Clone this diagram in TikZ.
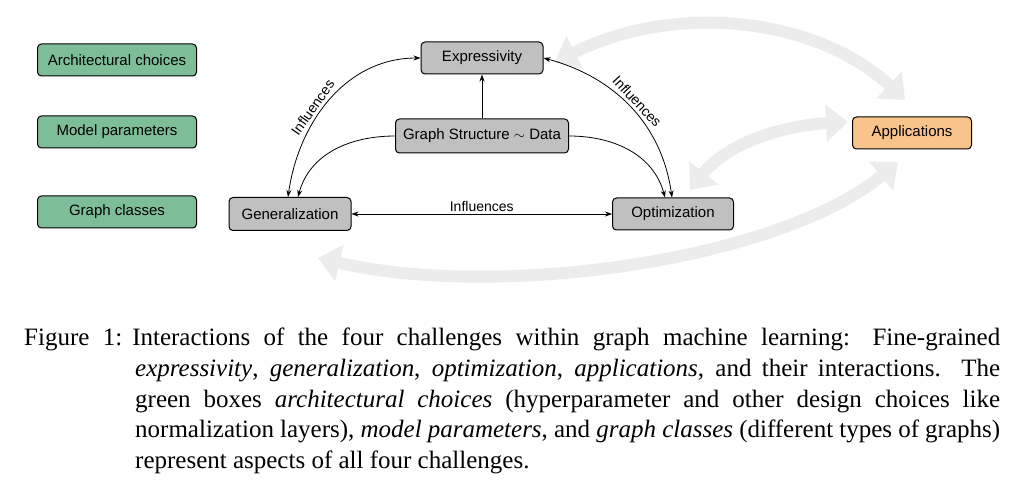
\documentclass[tikz,border=0pt]{standalone}
\usepackage{fontspec}
\setmainfont{Liberation Serif}
\newfontfamily\sansf{Liberation Sans}
\usetikzlibrary{arrows.meta}
\definecolor{boxgreen}{RGB}{125,190,152}
\definecolor{boxgray}{RGB}{192,192,192}
\definecolor{boxorange}{RGB}{249,196,140}
\definecolor{bigarrow}{RGB}{236,236,236}
\begin{document}
\begin{tikzpicture}[x=1pt,y=-1pt,
  box/.style={draw=black,line width=1pt,rounded corners=4pt,minimum height=32pt,font=\sansf\fontsize{15}{16}\selectfont,inner xsep=6pt},
  green/.style={box,fill=boxgreen,minimum width=159pt},
  gray/.style={box,fill=boxgray},
  con/.style={line width=0.8pt,-{Stealth[length=7pt,width=5pt]}},
  dcon/.style={line width=0.8pt,{Stealth[length=7pt,width=5pt]}-{Stealth[length=7pt,width=5pt]}},
  big/.style={bigarrow,line width=12pt,{Triangle[length=22pt,width=36pt]}-{Triangle[length=22pt,width=36pt]}},
  lab/.style={font=\sansf\fontsize{14}{15}\selectfont}]
\useasboundingbox (0,0) rectangle (1031,497);
\fill[white] (0,0) rectangle (1031,497);
% big light arrows
\coordinate (t1) at (555,62); \coordinate (t2) at (905,100);
\coordinate (m1) at (690,190); \coordinate (m2) at (848,122);
\coordinate (b1) at (318,258); \coordinate (b2) at (898,162);
\draw[big] (t1) .. controls (680,0) and (820,20) .. (t2);
\draw[big] (m1) .. controls (730,140) and (790,125) .. (m2);
\draw[big] (b1) .. controls (500,300) and (780,260) .. (b2);
% nodes
\node[green] (arch) at (117,60) {Architectural choices};
\node[green] (model) at (117,132) {Model parameters};
\node[green] (gclass) at (117,212) {Graph classes};
\node[gray,minimum width=122pt] (expr) at (482,58) {Expressivity};
\node[gray,minimum width=173pt,minimum height=34pt] (gs) at (482,136) {Graph Structure $\sim$ Data};
\node[gray,minimum width=122pt,minimum height=33pt] (gen) at (290,214) {Generalization};
\node[gray,minimum width=121pt] (opt) at (673,214) {Optimization};
\node[box,fill=boxorange,minimum width=119pt] (app) at (912,133) {Applications};
% connectors
\draw[con] (gs.north) -- (expr.south);
\draw[con] (gs.west) to[out=180,in=75] ([xshift=8pt]gen.north);
\draw[con] (gs.east) to[out=0,in=105] ([xshift=-8pt]opt.north);
\draw[dcon] ([xshift=-2pt]gen.north) to[out=82,in=180] node[lab,sloped,above,pos=0.42]{Influences} (expr.west);
\draw[dcon] (expr.east) to[out=-15,in=98] node[lab,sloped,above,pos=0.5]{Influences} ([xshift=-1pt]opt.north);
\draw[dcon] (gen.east) -- node[lab,above,yshift=-1pt]{Influences} (opt.west);
% caption
\node[anchor=north west,inner sep=0pt,text width=976pt,align=justify] (cap) at (24,328)
 {\fontsize{25}{30.6}\selectfont\hangindent=111pt\hangafter=1\noindent
 Figure~1:\hspace{0.4em}Interactions of the four challenges within graph machine learning: Fine-grained\linebreak
 \emph{expressivity}, \emph{generalization}, \emph{optimization}, \emph{applications}, and their interactions.\ \ The\linebreak
 green boxes \emph{architectural choices} (hyperparameter and other design choices like\linebreak
 normalization layers), \emph{model parameters}, and \emph{graph classes} (different types of graphs)\linebreak
 represent aspects of all four challenges.\par};
\end{tikzpicture}
\end{document}
